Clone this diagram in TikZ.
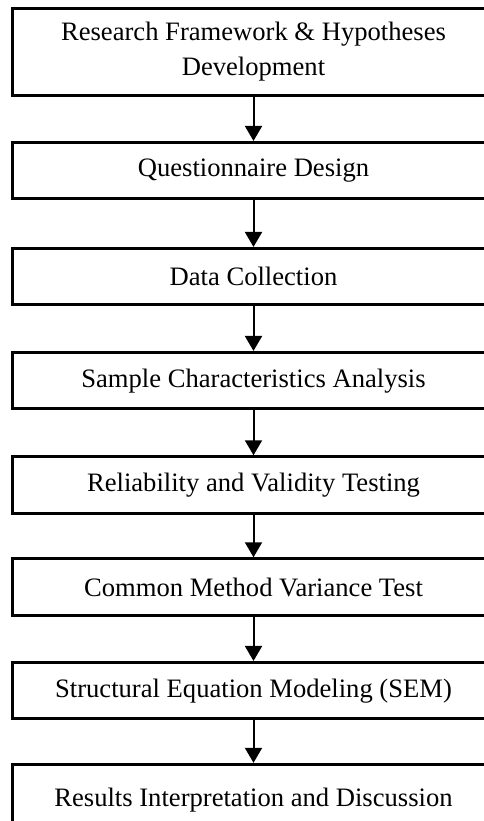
\documentclass[tikz,border=0pt]{standalone}
\usepackage{fontspec}
\setmainfont{Liberation Serif}
\usetikzlibrary{arrows.meta, positioning}

\begin{document}
\begin{tikzpicture}[x=1pt, y=-1pt,
    stepbox/.style={draw, line width=3pt, minimum width=482pt, minimum height=56.5pt,
        inner sep=0pt, align=center, font=\fontsize{26.6}{35}\selectfont},
    flow/.style={line width=2pt, -{Triangle[length=15pt, width=17pt]}}]
    \useasboundingbox (0,0) rectangle (484,821);
    \clip (0,0) rectangle (484,821);

    % Draw the steps of the research process
    \node[stepbox, minimum height=86.5pt] (frame) at (253.5,52) {Research Framework \& Hypotheses\\Development};
    \node[stepbox] (quest) at (253.5,170.7) {Questionnaire Design};
    \node[stepbox] (collect) at (253.5,276.7) {Data Collection};
    \node[stepbox] (sample) at (253.5,380.7) {Sample Characteristics Analysis};
    \node[stepbox] (reliab) at (253.5,485) {Reliability and Validity Testing};
    \node[stepbox] (cmv) at (253.5,587) {Common Method Variance Test};
    \node[stepbox] (sem) at (253.5,690.7) {Structural Equation Modeling (SEM)};
    \node[stepbox, minimum height=71pt] (results) at (253.5,799.8) {Results Interpretation and Discussion};

    % Draw the arrows between the steps
    \draw[flow] (frame) -- (quest);
    \draw[flow] (quest) -- (collect);
    \draw[flow] (collect) -- (sample);
    \draw[flow] (sample) -- (reliab);
    \draw[flow] (reliab) -- (cmv);
    \draw[flow] (cmv) -- (sem);
    \draw[flow] (sem) -- (results);

\end{tikzpicture}
\end{document}
